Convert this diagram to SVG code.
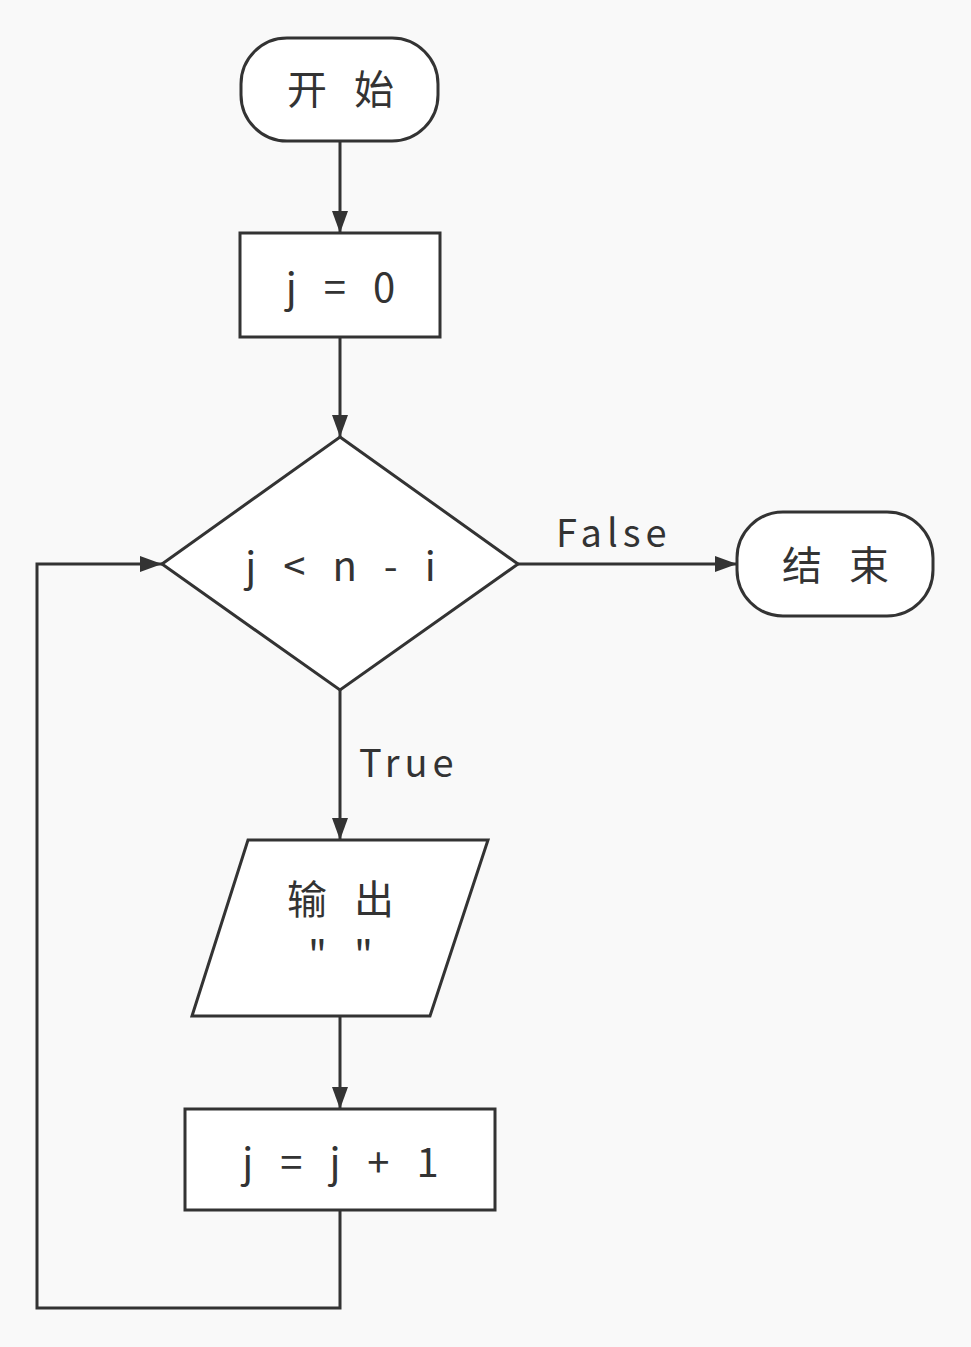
<svg xmlns="http://www.w3.org/2000/svg" width="971" height="1347" viewBox="0 0 971 1347">
<defs>
<marker id="arr" markerWidth="22" markerHeight="16" refX="22" refY="8" orient="auto" markerUnits="userSpaceOnUse">
<path d="M0,0 L22,8 L0,16 Z" fill="#333"/>
</marker>
<style>
.shape{fill:#fff;stroke:#333;stroke-width:3}
.edge{fill:none;stroke:#333;stroke-width:3}
.t{font-family:"Noto Sans CJK SC","Noto Sans",sans-serif;font-size:40px;fill:#333;text-anchor:middle;letter-spacing:9px}
.lbl{font-family:"Noto Sans CJK SC","Noto Sans",sans-serif;font-size:38px;fill:#333;letter-spacing:5px}
</style>
</defs>
<rect width="971" height="1347" fill="#f9f9f9"/>
<g id="connectors">
<path class="edge" d="M340,141 L340,233" marker-end="url(#arr)"/>
<path class="edge" d="M340,337 L340,437" marker-end="url(#arr)"/>
<path class="edge" d="M518,564 L737,564" marker-end="url(#arr)"/>
<path class="edge" d="M340,690 L340,840" marker-end="url(#arr)"/>
<path class="edge" d="M340,1016 L340,1109" marker-end="url(#arr)"/>
<path class="edge" d="M340,1210 L340,1308 L37,1308 L37,564 L162,564" marker-end="url(#arr)"/>
<text class="lbl" x="556" y="547">False</text>
<text class="lbl" x="359" y="777">True</text>
</g>
<g id="start">
<rect class="shape" x="241" y="38" width="197" height="103" rx="46"/>
<text class="t" x="345" y="104">开 始</text>
</g>
<g id="init">
<rect class="shape" x="240" y="233" width="200" height="104"/>
<text class="t" x="345" y="302">j = 0</text>
</g>
<g id="cond">
<polygon class="shape" points="340,437 518,564 340,690 162,564"/>
<text class="t" x="345" y="581">j &lt; n - i</text>
</g>
<g id="end">
<rect class="shape" x="737" y="512" width="196" height="104" rx="46"/>
<text class="t" x="840" y="580">结 束</text>
</g>
<g id="output">
<polygon class="shape" points="248,840 488,840 430,1016 192,1016"/>
<text class="t" x="345" y="914">输 出</text>
<text class="t" x="345" y="970">" "</text>
</g>
<g id="inc">
<rect class="shape" x="185" y="1109" width="310" height="101"/>
<text class="t" x="345" y="1177">j = j + 1</text>
</g>
</svg>
